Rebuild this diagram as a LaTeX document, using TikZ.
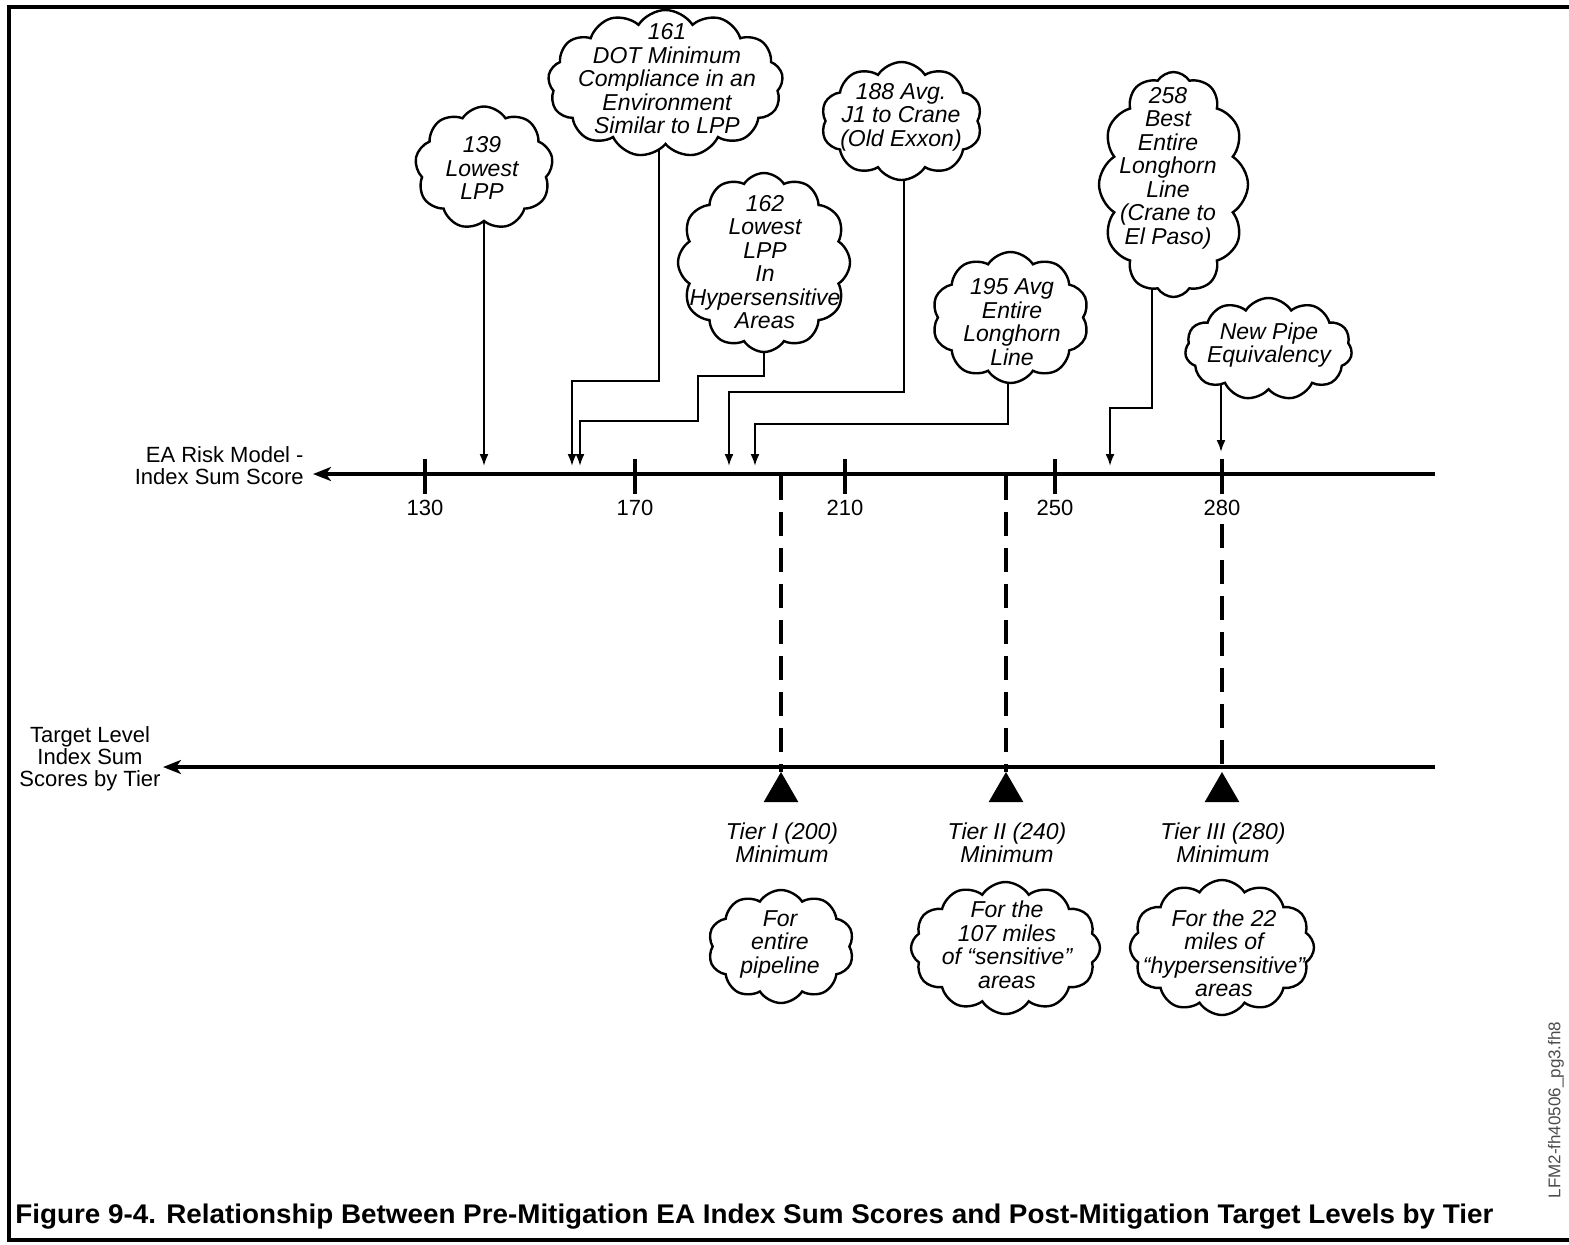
\documentclass[tikz,border=0pt]{standalone}
\usepackage{fontspec}
\setmainfont{Liberation Sans}
\usetikzlibrary{shapes.symbols,shapes.geometric,arrows.meta,backgrounds}
\begin{document}
\begin{tikzpicture}[x=0.5pt,y=-0.5pt,
 cl/.style={cloud, draw, fill=white, line width=1.2pt, cloud puff arc=115, cloud ignores aspect, inner sep=0pt, outer sep=0pt},
 ct/.style={align=center, font=\fontsize{11.5}{11.75}\selectfont\itshape, inner sep=0pt},
 lab/.style={font=\fontsize{11}{11}\selectfont, inner sep=0pt},
 conn/.style={line width=1pt, -{Latex[length=6pt,width=4.5pt]}},
 axisline/.style={line width=2pt, -{Stealth[length=9pt,width=7pt,inset=2.5pt]}},
 tickline/.style={line width=1.8pt},
 dsh/.style={line width=2.2pt, dash pattern=on 12pt off 6pt},
 tri/.style={regular polygon, regular polygon sides=3, fill=black, minimum size=20pt, inner sep=0pt, outer sep=0pt},
 frame/.style={line width=2pt}
]
\useasboundingbox (0,0) rectangle (1569,1244);
% frame
\draw[frame] (1569,7) -- (9,7) -- (9,1240) -- (1569,1240);

% clouds (top)
\node[cl, cloud puffs=9,  minimum width=69pt,   minimum height=61.5pt] (c139) at (484,168) {};
\node[cl, cloud puffs=13, minimum width=117.5pt,minimum height=73.5pt] (c161) at (665.5,83.5) {};
\node[cl, cloud puffs=12, minimum width=86pt,   minimum height=89.5pt] (c162) at (764,262.5) {};
\node[cl, cloud puffs=10, minimum width=80.5pt, minimum height=59pt]   (c188) at (901.5,121) {};
\node[cl, cloud puffs=10, minimum width=78.5pt, minimum height=65.5pt] (c195) at (1010.5,317.5) {};
\node[cl, cloud puffs=12, minimum width=74.5pt, minimum height=112.5pt](c258) at (1173.5,184.5) {};
\node[cl, cloud puffs=11, minimum width=83.5pt, minimum height=51pt]   (cNew) at (1268.5,349) {};
% clouds (bottom)
\node[cl, cloud puffs=10, minimum width=73pt,   minimum height=56.5pt] (cT1) at (781,946.5) {};
\node[cl, cloud puffs=12, minimum width=94.5pt, minimum height=66pt]   (cT2) at (1005.5,948) {};
\node[cl, cloud puffs=12, minimum width=92pt,   minimum height=67.5pt] (cT3) at (1222,947.5) {};

% cloud texts
\node[ct] (t139) at (482,168) {139\\Lowest\\LPP};
\node[ct] (t161) at (667,79) {161\\DOT Minimum\\Compliance in an\\Environment\\Similar to LPP};
\node[ct] (t162) at (765,262) {162\\Lowest\\LPP\\In\\Hypersensitive\\Areas};
\node[ct] (t188) at (901,117) {188 Avg.\\J1 to Crane\\(Old Exxon)};
\node[ct] (t195) at (1012,322) {195 Avg\\Entire\\Longhorn\\Line};
\node[ct] (t258) at (1168,168) {258\\Best\\Entire\\Longhorn\\Line\\(Crane to\\El Paso)};
\node[ct] (tNew) at (1269,345) {New Pipe\\Equivalency};
\node[ct] (tT1) at (780,944) {For\\entire\\pipeline};
\node[ct] (tT2) at (1007,945) {For the\\107 miles\\of “sensitive”\\areas};
\node[ct] (tT3) at (1224,953.5) {For the 22\\miles of\\“hypersensitive”\\areas};

% top axis
\coordinate (axR) at (1435,474);
\coordinate (axL) at (313,474);
\draw[axisline] (axR) -- (axL);
\foreach \x/\v in {425/130,635/170,845/210,1055/250,1222/280}{
  \draw[tickline] (\x,459) -- (\x,494);
  \node[lab] (n\v) at (\x,508) {\v};
}
\node[lab, align=right, anchor=east] (lblA) at (304,466) {EA Risk Model -\\Index Sum Score};

% arrow targets on the axis
\coordinate (a139) at (484,466);
\coordinate (a161) at (572,466);
\coordinate (a162) at (580,466);
\coordinate (a188) at (729,466);
\coordinate (a195) at (755,466);
\coordinate (a258) at (1110,466);
\coordinate (aNew) at (1221,452);

\begin{pgfonlayer}{background}
\draw[conn] (c139.center -| a139) -- (a139);
\draw[conn] (c161.center -| 659,0) |- (572,381) -- (a161);
\draw[conn] (c162.center -| 764,0) |- (698,376) |- (580,421) -- (a162);
\draw[conn] (c188.center -| 904,0) |- (729,392) -- (a188);
\draw[conn] (c195.center -| 1008,0) |- (755,424) -- (a195);
\draw[conn] (c258.center -| 1152,0) |- (1110,408) -- (a258);
\draw[conn] (cNew.center -| aNew) -- (aNew);
\end{pgfonlayer}

% bottom axis
\coordinate (bxR) at (1435,767);
\coordinate (bxL) at (163,767);
\draw[axisline] (bxR) -- (bxL);
\node[lab, align=center] (lblB) at (90,759) {Target Level\\Index Sum\\Scores by Tier};

% triangles and dashed links
\node[tri] (tr1) at (781,792) {};
\node[tri] (tr2) at (1006,792) {};
\node[tri] (tr3) at (1222,792) {};
\coordinate (d1) at (781,476);
\coordinate (d2) at (1006,476);
\coordinate (d3) at (1222,524);
\draw[dsh] (d1) -- (tr1.north);
\draw[dsh] (d2) -- (tr2.north);
\draw[dsh] (d3) -- (tr3.north);

% tier labels
\node[ct] (tl1) at (782,843) {Tier I (200)\\Minimum};
\node[ct] (tl2) at (1007,843) {Tier II (240)\\Minimum};
\node[ct] (tl3) at (1223,843) {Tier III (280)\\Minimum};

% caption
\node[anchor=base west, inner sep=0pt] (cap) at (15,1223) {\resizebox{739pt}{\height}{\fontsize{13.5}{14}\selectfont\bfseries Figure 9-4. Relationship Between Pre-Mitigation EA Index Sum Scores and Post-Mitigation Target Levels by Tier}};
\node[rotate=90, font=\fontsize{8.5}{8.5}\selectfont, text=black!70, inner sep=0pt] (fid) at (1556,1110) {LFM2-fh40506\_pg3.fh8};
\end{tikzpicture}
\end{document}
